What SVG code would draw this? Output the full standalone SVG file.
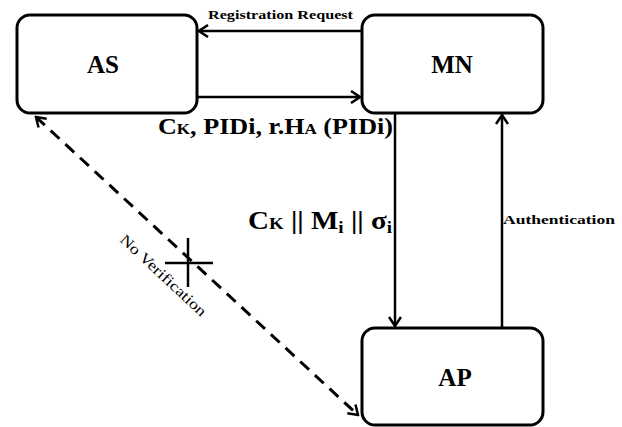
<svg xmlns="http://www.w3.org/2000/svg" width="622" height="427" viewBox="0 0 622 427">
<defs>
<style>
.box{fill:#fff;stroke:#000;stroke-width:3}
.ln{fill:none;stroke:#000;stroke-width:2.5}
.dash{fill:none;stroke:#000;stroke-width:3;stroke-dasharray:12 8}
.t{font-family:"Liberation Serif","Times New Roman",serif;font-weight:bold;fill:#000}
.n{font-family:"Liberation Serif","Times New Roman",serif;fill:#000}
</style>
<marker id="ah" viewBox="-11 -7 13 14" markerWidth="13" markerHeight="14" refX="0" refY="0" orient="auto-start-reverse" markerUnits="userSpaceOnUse">
<path d="M-9,-6 L0,0 L-9,6" fill="none" stroke="#000" stroke-width="2.5"/>
</marker>
</defs>
<rect width="622" height="427" fill="#fff"/>
<g id="connectors">
<line class="ln" x1="362" y1="31" x2="199" y2="31" marker-end="url(#ah)"/>
<line class="ln" x1="197" y1="97" x2="360" y2="97" marker-end="url(#ah)"/>
<line class="ln" x1="395" y1="113" x2="395" y2="326" marker-end="url(#ah)"/>
<line class="ln" x1="502" y1="328" x2="502" y2="115" marker-end="url(#ah)"/>
<line class="dash" x1="36" y1="117" x2="358" y2="415" marker-start="url(#ah)" marker-end="url(#ah)"/>
<line class="ln" x1="165" y1="263" x2="213" y2="263" stroke-width="3"/>
<line class="ln" x1="188" y1="238" x2="188" y2="287" stroke-width="3"/>
<text class="t" x="208" y="19" font-size="13" textLength="145" lengthAdjust="spacingAndGlyphs">Registration Request</text>
<text class="t" x="158" y="134" font-size="23" textLength="235" lengthAdjust="spacingAndGlyphs">C<tspan font-size="15">K</tspan>, PIDi, r.H<tspan font-size="15">A</tspan> (PIDi)</text>
<text class="t" x="248" y="229" font-size="26" textLength="144" lengthAdjust="spacingAndGlyphs">C<tspan font-size="17">K</tspan> || M<tspan font-size="17" dy="4">i</tspan><tspan dy="-4"> || σ</tspan><tspan font-size="17" dy="4">i</tspan></text>
<text class="t" x="503" y="224" font-size="13" textLength="112" lengthAdjust="spacingAndGlyphs">Authentication</text>
<text class="n" x="0" y="0" font-size="15" text-anchor="middle" textLength="112" lengthAdjust="spacingAndGlyphs" transform="translate(160,279) rotate(43)">No Verification</text>
</g>
<g id="AS">
<rect class="box" x="17" y="15" width="180" height="98" rx="13"/>
<text class="t" x="103" y="73" font-size="25" text-anchor="middle">AS</text>
</g>
<g id="MN">
<rect class="box" x="362" y="15" width="181" height="98" rx="13"/>
<text class="t" x="452" y="73" font-size="25" text-anchor="middle">MN</text>
</g>
<g id="AP">
<rect class="box" x="362" y="328" width="181" height="97" rx="13"/>
<text class="t" x="455" y="386" font-size="25" text-anchor="middle">AP</text>
</g>
</svg>
